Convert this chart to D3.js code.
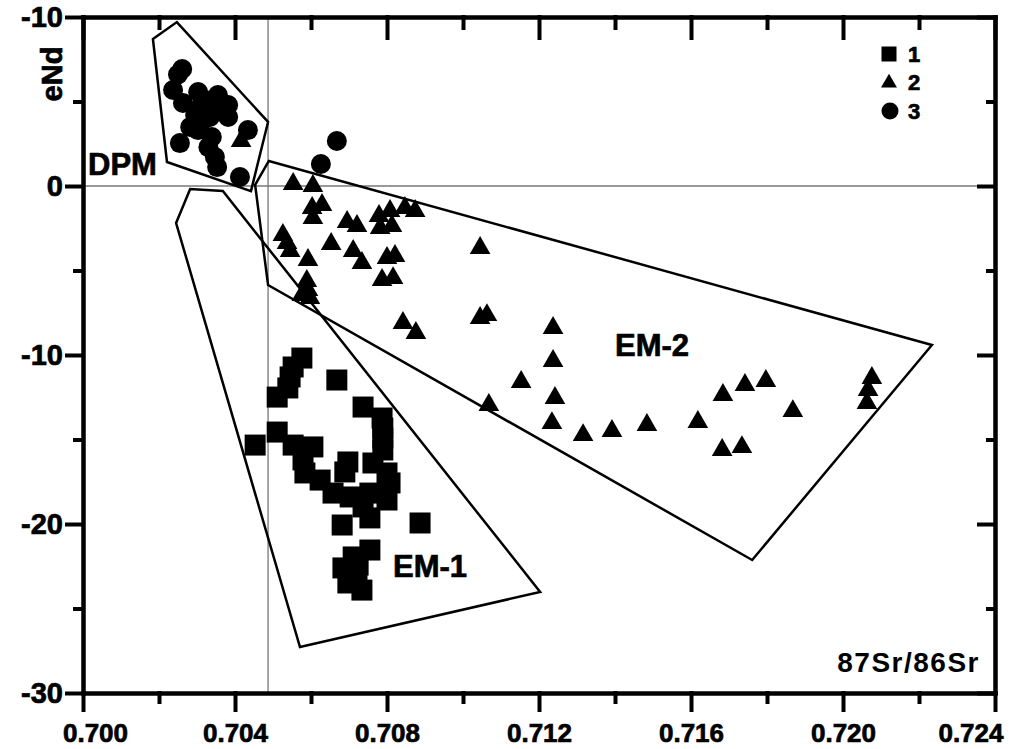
<!DOCTYPE html>
<html>
<head>
<meta charset="utf-8">
<script src="https://cdn.jsdelivr.net/npm/d3@7"></script>
<style>
  body { margin: 0; background: #fff; }
  svg { display: block; font-family: "Liberation Sans", Arial, sans-serif; }
  .axis path, .axis line { stroke: #000; stroke-width: 4; stroke-linecap: square; }
  .axis text { font-family: "Liberation Sans", Arial, sans-serif; font-size: 26px; font-weight: bold; fill: #000; stroke: #000; stroke-width: 0.7px; }
  .field { fill: none; stroke: #000; stroke-width: 2.5; stroke-linejoin: miter; }
  .label { font-family: "Liberation Sans", Arial, sans-serif; font-weight: bold; fill: #000; }
  .heavy { stroke: #000; stroke-width: 0.7px; }
</style>
</head>
<body>
<svg id="chart" width="1009" height="749"></svg>
<script>
// tick values / labels (the top label reads "-10" in the original figure)
var xMajor = [0.700, 0.704, 0.708, 0.712, 0.716, 0.720, 0.724]
var xMinor = [0.702, 0.706, 0.710, 0.714, 0.718, 0.722]
var yMajor = [10, 0, -10, -20, -30]
var yMinor = [5, -5, -15, -25]
var yTickLabels = ['-10', '0', '-10', '-20', '-30']

// reference lines
var srLine = 0.70487
var ndLine = 0

// group 1 (squares) [87Sr/86Sr, eNd]
var group1 = [
    [0.70576, -10.18], [0.70553, -10.71], [0.70545, -11.30], [0.70539, -11.95], [0.70511, -12.49],
    [0.70668, -11.48], [0.70737, -13.08], [0.70787, -13.73], [0.70511, -14.56], [0.70453, -15.33],
    [0.70789, -14.32], [0.70789, -14.91], [0.70789, -15.62], [0.70553, -15.33], [0.70605, -15.44],
    [0.70579, -16.21], [0.70584, -16.98], [0.70624, -17.40], [0.70658, -18.17], [0.70703, -18.40],
    [0.70697, -16.33], [0.70689, -16.92], [0.70763, -16.39], [0.70800, -16.98], [0.70808, -17.57],
    [0.70755, -18.17], [0.70800, -18.58], [0.70737, -18.99], [0.70755, -19.64], [0.70682, -20.06],
    [0.70887, -19.94], [0.70755, -21.54], [0.70711, -21.95], [0.70684, -22.60], [0.70721, -23.14],
    [0.70734, -23.91], [0.70697, -23.49], [0.70724, -22.43]
]

// group 2 (triangles)
var group2 = [
    [0.70553, 0.30], [0.70605, 0.18], [0.70603, -1.12], [0.70629, -0.95], [0.70605, -1.72],
    [0.70526, -2.72], [0.70537, -3.20], [0.70545, -3.67], [0.70592, -4.20], [0.70653, -3.25],
    [0.70695, -1.95], [0.70721, -2.19], [0.70711, -3.67], [0.70734, -4.38], [0.70779, -1.60],
    [0.70808, -1.30], [0.70847, -1.12], [0.70874, -1.30], [0.70782, -2.31], [0.70813, -2.19],
    [0.70800, -4.08], [0.70821, -3.96], [0.70787, -5.38], [0.70816, -5.27], [0.70589, -5.44],
    [0.70592, -5.98], [0.70597, -6.45], [0.70576, -6.27], [0.70842, -7.93], [0.70876, -8.52],
    [0.71045, -3.49], [0.71045, -7.63], [0.71063, -7.46], [0.71237, -8.22], [0.71237, -10.18],
    [0.71242, -12.37], [0.71234, -13.85], [0.71153, -11.42], [0.71068, -12.78], [0.71316, -14.56],
    [0.71392, -14.32], [0.71484, -13.96], [0.71618, -13.79], [0.71682, -15.44], [0.71734, -15.27],
    [0.71684, -12.19], [0.71742, -11.60], [0.71797, -11.36], [0.71868, -13.14], [0.72063, -12.66],
    [0.72066, -11.89], [0.72076, -11.18], [0.70416, 2.84]
]

// group 3 (circles)
var group3 = [
    [0.70261, 6.92], [0.70237, 5.68], [0.70263, 4.91], [0.70303, 5.56], [0.70355, 5.38],
    [0.70382, 4.79], [0.70308, 4.67], [0.70334, 4.08], [0.70316, 3.91], [0.70282, 3.49],
    [0.70303, 3.31], [0.70339, 2.90], [0.70382, 4.08], [0.70434, 3.31], [0.70255, 2.54],
    [0.70347, 1.72], [0.70353, 1.12], [0.70413, 0.53], [0.70626, 1.30], [0.70668, 2.66],
    [0.70321, 5.09], [0.70361, 4.50], [0.70295, 4.20], [0.70250, 6.60], [0.70330, 2.30]
]

// outlined fields
var fieldDPM = [[0.70184, 8.70], [0.70247, 9.70], [0.70487, 3.79], [0.70442, -0.30], [0.70221, 1.42]]
var fieldEM1 = [[0.70245, -2.19], [0.70282, -0.18], [0.70368, -0.30], [0.71203, -24.02], [0.70571, -27.28]]
var fieldEM2 = [[0.70453, 0.06], [0.70489, 1.48], [0.72234, -9.41], [0.71761, -22.13], [0.70487, -5.86]]

var legendItems = ['1', '2', '3']

var plot = { left: 83, right: 995, top: 17, bottom: 693 }

var svg = d3.select('#chart')
svg.append('rect').attr('width', 1009).attr('height', 749).attr('fill', '#fff')

var x = d3.scaleLinear().domain([0.700, 0.724]).range([plot.left, plot.right])
var y = d3.scaleLinear().domain([10, -30]).range([plot.top, plot.bottom])

// thin reference lines
svg.append('line')
    .attr('x1', x(srLine)).attr('x2', x(srLine))
    .attr('y1', y(10)).attr('y2', y(-30))
    .attr('stroke', '#777').attr('stroke-width', 1.3)
svg.append('line')
    .attr('x1', x(0.700)).attr('x2', x(0.724))
    .attr('y1', y(ndLine)).attr('y2', y(ndLine))
    .attr('stroke', '#777').attr('stroke-width', 1.3)

// fields
var polyLine = d3.line().x(d => x(d[0])).y(d => y(d[1])).curve(d3.curveLinearClosed)
;[fieldDPM, fieldEM1, fieldEM2].forEach(f => {
    svg.append('path').attr('class', 'field').attr('d', polyLine(f))
})

// points
var sq = d3.symbol().type(d3.symbolSquare).size(441)
var tri = d3.symbol().type(d3.symbolTriangle).size(185)

svg.selectAll('.sq').data(group1).enter().append('path')
    .attr('class', 'sq')
    .attr('d', sq)
    .attr('transform', d => 'translate(' + x(d[0]) + ',' + y(d[1]) + ')')
    .attr('fill', '#000')

svg.selectAll('.tri').data(group2).enter().append('path')
    .attr('class', 'tri')
    .attr('d', tri)
    .attr('transform', d => 'translate(' + x(d[0]) + ',' + (y(d[1]) + 3) + ')')
    .attr('fill', '#000')

svg.selectAll('.dot').data(group3).enter().append('circle')
    .attr('class', 'dot')
    .attr('cx', d => x(d[0]))
    .attr('cy', d => y(d[1]))
    .attr('r', 10)
    .attr('fill', '#000')

// axes
var fmtX = d3.format('.3f')

var bottomAxis = svg.append('g').attr('class', 'axis')
    .attr('transform', 'translate(0,' + plot.bottom + ')')
    .call(d3.axisBottom(x).tickValues(xMajor).tickFormat(fmtX).tickSizeInner(17).tickSizeOuter(0).tickPadding(14))
bottomAxis.selectAll('.tick text')
    .attr('text-anchor', (d, i) => i === xMajor.length - 1 ? 'end' : 'middle')
    .attr('dx', (d, i) => i === 0 ? 12 : (i === xMajor.length - 1 ? 8 : 0))
svg.append('g').attr('class', 'axis')
    .attr('transform', 'translate(0,' + plot.bottom + ')')
    .call(d3.axisBottom(x).tickValues(xMinor).tickFormat('').tickSizeInner(9).tickSizeOuter(0))

svg.append('g').attr('class', 'axis')
    .attr('transform', 'translate(0,' + plot.top + ')')
    .call(d3.axisTop(x).tickValues(xMajor).tickFormat('').tickSizeInner(-21).tickSizeOuter(0))
svg.append('g').attr('class', 'axis')
    .attr('transform', 'translate(0,' + plot.top + ')')
    .call(d3.axisTop(x).tickValues(xMinor).tickFormat('').tickSizeInner(-11).tickSizeOuter(0))

svg.append('g').attr('class', 'axis')
    .attr('transform', 'translate(' + plot.left + ',0)')
    .call(d3.axisLeft(y).tickValues(yMajor).tickFormat((d, i) => yTickLabels[i]).tickSizeInner(16).tickSizeOuter(0).tickPadding(4))
    .selectAll('.tick text').style('font-size', '29px')
svg.append('g').attr('class', 'axis')
    .attr('transform', 'translate(' + plot.left + ',0)')
    .call(d3.axisLeft(y).tickValues(yMinor).tickFormat('').tickSizeInner(8).tickSizeOuter(0))

svg.append('g').attr('class', 'axis')
    .attr('transform', 'translate(' + plot.right + ',0)')
    .call(d3.axisRight(y).tickValues(yMajor).tickFormat('').tickSizeInner(-16).tickSizeOuter(0))
svg.append('g').attr('class', 'axis')
    .attr('transform', 'translate(' + plot.right + ',0)')
    .call(d3.axisRight(y).tickValues(yMinor).tickFormat('').tickSizeInner(-7).tickSizeOuter(0))

svg.selectAll('.axis .domain').attr('stroke-width', 4.5)

// axis titles
svg.append('text').attr('class', 'label heavy')
    .attr('transform', 'translate(62,74) rotate(-90)')
    .attr('text-anchor', 'middle')
    .style('font-size', '29px')
    .text('eNd')
svg.append('text').attr('class', 'label')
    .attr('x', 980).attr('y', 672)
    .attr('text-anchor', 'end')
    .style('font-size', '28px')
    .style('letter-spacing', '1.5px')
    .text('87Sr/86Sr')

// field labels
svg.append('text').attr('class', 'label heavy').attr('x', 88).attr('y', 175).style('font-size', '31px').text('DPM')
svg.append('text').attr('class', 'label heavy').attr('x', 615).attr('y', 356).style('font-size', '31px').text('EM-2')
svg.append('text').attr('class', 'label heavy').attr('x', 393).attr('y', 577).style('font-size', '31px').text('EM-1')

// legend
var lg = svg.append('g').attr('transform', 'translate(889,0)')
var lgY = [54, 82, 111]
lg.append('rect').attr('x', -7.5).attr('y', lgY[0] - 7.5).attr('width', 15).attr('height', 15).attr('fill', '#000')
lg.append('path').attr('d', d3.symbol().type(d3.symbolTriangle).size(110)).attr('transform', 'translate(0,' + (lgY[1] + 1) + ')').attr('fill', '#000')
lg.append('circle').attr('cx', 1).attr('cy', lgY[2]).attr('r', 8.5).attr('fill', '#000')
lg.selectAll('.lgt').data(legendItems).enter().append('text')
    .attr('class', 'label heavy')
    .attr('x', 19)
    .attr('y', (d, i) => lgY[i] + 8)
    .style('font-size', '22px')
    .text(d => d)
</script>
</body>
</html>
